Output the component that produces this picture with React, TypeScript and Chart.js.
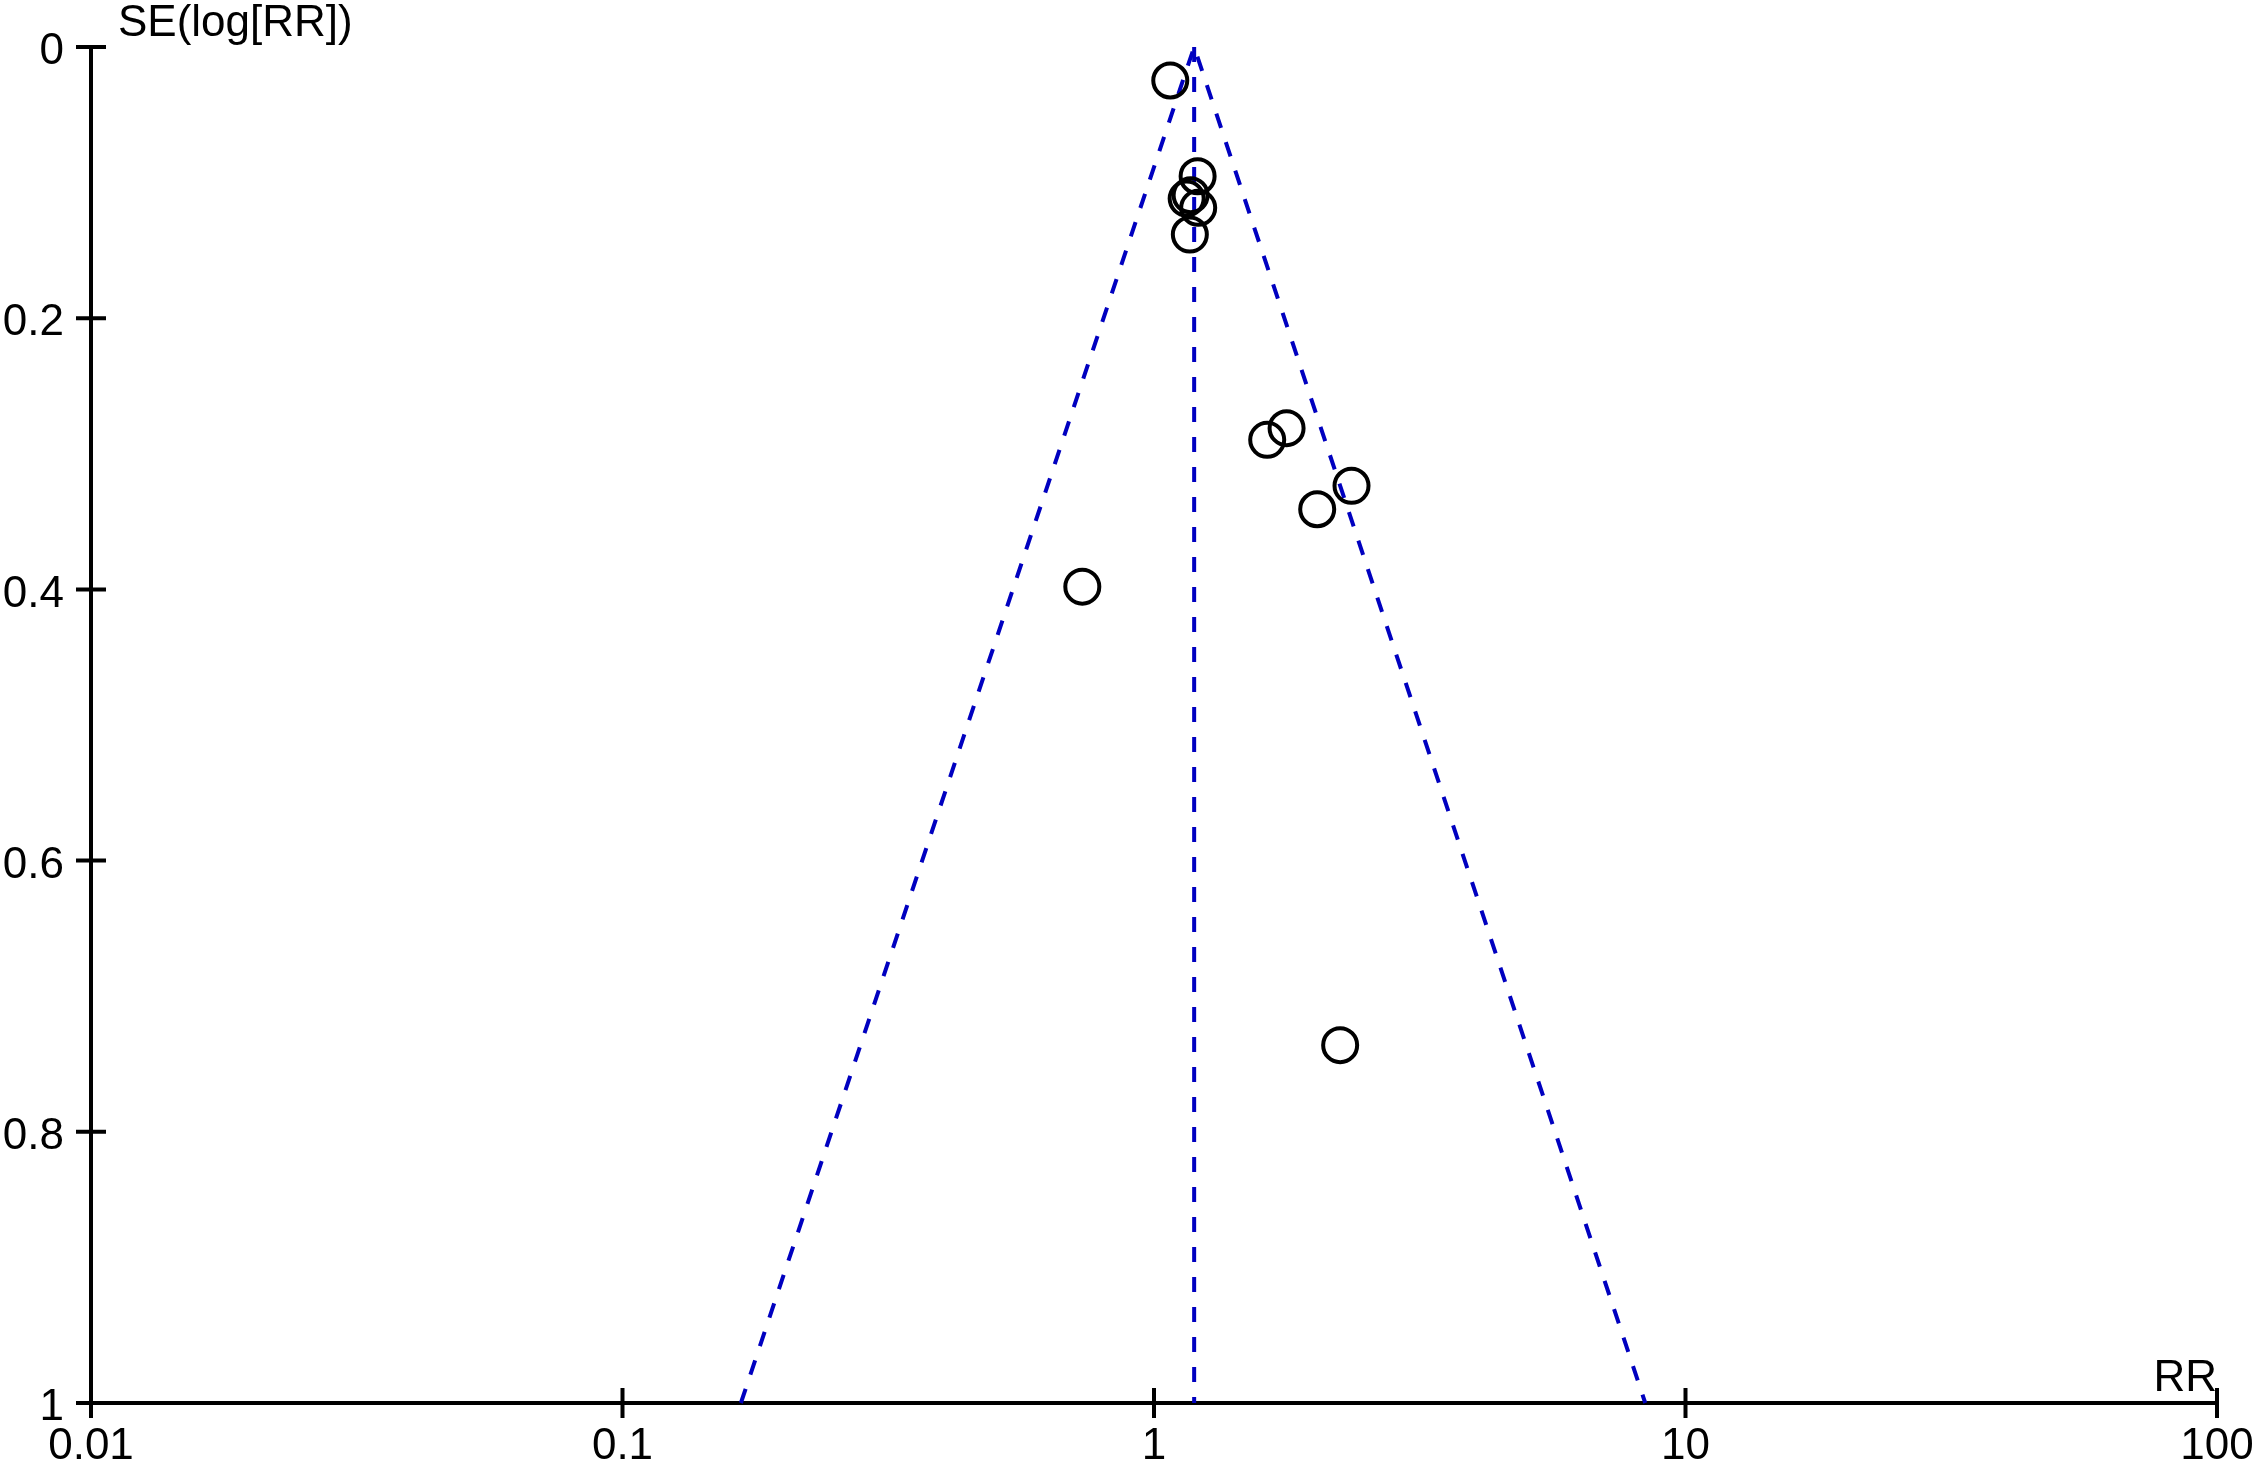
import React, { useEffect, useRef } from 'react';
import { Chart, registerables } from 'chart.js';

Chart.register(...registerables);

// Study estimates (risk ratio) and their standard errors of log(RR)
const studyRR = [1.073, 1.208, 1.152, 1.172, 1.211, 1.168, 1.633, 1.776, 2.353, 2.028, 0.733, 2.24];
const studySE = [0.0247, 0.0953, 0.1118, 0.1093, 0.1186, 0.1383, 0.2897, 0.2811, 0.3236, 0.3409, 0.398, 0.7361];

// Pooled estimate and pseudo 95% confidence funnel
const pooledRR = 1.19;
const funnelRR = [0.167, pooledRR, 8.4];
const funnelSE = [1, 0, 1];
const centerRR = [pooledRR, pooledRR];
const centerSE = [0, 1];

// Axes
const xTickValues = [0.01, 0.1, 1, 10, 100];
const xTickLabels = ['0.01', '0.1', '1', '10', '100'];
const yTickValues = [0, 0.2, 0.4, 0.6, 0.8, 1];
const yTickLabels = ['0', '0.2', '0.4', '0.6', '0.8', '1'];
const yTitle = 'SE(log[RR])';
const xTitle = 'RR';

const FONT = '"Liberation Sans", Arial, Helvetica, sans-serif';
const FONT_SIZE = 44;
const BLUE = '#0000c0';

const funnelAxesPlugin = {
  id: 'funnelAxes',
  beforeDatasetsDraw(chart: any) {
    const { ctx, scales } = chart;
    const xs = scales.x;
    const ys = scales.y;
    const x0 = xs.getPixelForValue(xTickValues[0]);
    const x1 = xs.getPixelForValue(xTickValues[xTickValues.length - 1]);
    const yTop = ys.getPixelForValue(yTickValues[0]);
    const yBot = ys.getPixelForValue(yTickValues[yTickValues.length - 1]);
    ctx.save();
    ctx.strokeStyle = '#000';
    ctx.lineWidth = 4;
    ctx.lineCap = 'butt';
    ctx.beginPath();
    ctx.moveTo(x0, yTop);
    ctx.lineTo(x0, yBot);
    ctx.moveTo(x0, yBot);
    ctx.lineTo(x1, yBot);
    xTickValues.forEach((v) => {
      const px = xs.getPixelForValue(v);
      ctx.moveTo(px, yBot - 15);
      ctx.lineTo(px, yBot + 15);
    });
    yTickValues.forEach((v) => {
      const py = ys.getPixelForValue(v);
      ctx.moveTo(x0 - 15, py);
      ctx.lineTo(x0 + 15, py);
    });
    ctx.stroke();

    // tick labels
    ctx.fillStyle = '#000';
    ctx.font = `${FONT_SIZE}px ${FONT}`;
    ctx.textBaseline = 'middle';
    ctx.textAlign = 'center';
    xTickValues.forEach((v, i) => {
      ctx.fillText(xTickLabels[i], xs.getPixelForValue(v), yBot + 44);
    });
    ctx.textAlign = 'right';
    yTickValues.forEach((v, i) => {
      ctx.fillText(yTickLabels[i], x0 - 27, ys.getPixelForValue(v) + 5);
    });
    ctx.restore();
  },
  afterDraw(chart: any) {
    const { ctx, chartArea } = chart;
    ctx.save();
    ctx.fillStyle = '#000';
    ctx.font = `${FONT_SIZE}px ${FONT}`;
    ctx.textBaseline = 'alphabetic';
    ctx.textAlign = 'left';
    ctx.fillText(yTitle, chartArea.left + 27, chartArea.top - 11);
    ctx.textAlign = 'right';
    ctx.fillText(xTitle, chartArea.right, chartArea.bottom - 12);
    ctx.restore();
  },
};

export default function App() {
  const canvasRef = useRef<HTMLCanvasElement | null>(null);

  useEffect(() => {
    document.body.style.margin = '0';
    document.body.style.overflow = 'hidden';
    const canvas = canvasRef.current;
    if (!canvas) return;

    const chart = new Chart(canvas, {
      type: 'scatter',
      data: {
        datasets: [
          {
            label: 'Funnel',
            data: funnelRR.map((x, i) => ({ x, y: funnelSE[i] })),
            showLine: true,
            borderColor: BLUE,
            borderWidth: 4,
            borderDash: [15, 15],
            pointRadius: 0,
            fill: false,
            clip: false as any,
            order: 2,
          },
          {
            label: 'Pooled',
            data: centerRR.map((x, i) => ({ x, y: centerSE[i] })),
            showLine: true,
            borderColor: BLUE,
            borderWidth: 4,
            borderDash: [15, 15],
            pointRadius: 0,
            fill: false,
            clip: false as any,
            order: 2,
          },
          {
            label: 'Studies',
            data: studyRR.map((x, i) => ({ x, y: studySE[i] })),
            showLine: false,
            pointRadius: 17,
            pointBorderWidth: 4,
            pointBorderColor: '#000',
            pointBackgroundColor: 'rgba(0,0,0,0)',
            borderColor: '#000',
            backgroundColor: 'rgba(0,0,0,0)',
            clip: false as any,
            order: 1,
          },
        ],
      },
      options: {
        responsive: false,
        animation: false,
        devicePixelRatio: 1,
        layout: { padding: { left: 0, right: 45, top: 47, bottom: 0 } },
        plugins: {
          legend: { display: false },
          tooltip: { enabled: false },
          title: { display: false },
        },
        scales: {
          x: {
            type: 'logarithmic',
            min: 0.01,
            max: 100,
            grid: { display: false, drawTicks: false },
            border: { display: false },
            ticks: { display: false, padding: 0 },
            afterBuildTicks: (scale: any) => {
              scale.ticks = xTickValues.map((v) => ({ value: v }));
            },
            afterFit: (scale: any) => {
              scale.height = 71;
              scale.paddingLeft = 0;
              scale.paddingRight = 0;
            },
          },
          y: {
            type: 'linear',
            min: 0,
            max: 1,
            reverse: true,
            grid: { display: false, drawTicks: false },
            border: { display: false },
            ticks: { display: false, padding: 0 },
            afterBuildTicks: (scale: any) => {
              scale.ticks = yTickValues.map((v) => ({ value: v }));
            },
            afterFit: (scale: any) => {
              scale.width = 91;
              scale.paddingTop = 0;
              scale.paddingBottom = 0;
            },
          },
        },
      },
      plugins: [funnelAxesPlugin],
    });

    return () => {
      chart.destroy();
    };
  }, []);

  return (
    <canvas
      ref={canvasRef}
      width={2262}
      height={1474}
      style={{ display: 'block', width: '2262px', height: '1474px' }}
    />
  );
}
